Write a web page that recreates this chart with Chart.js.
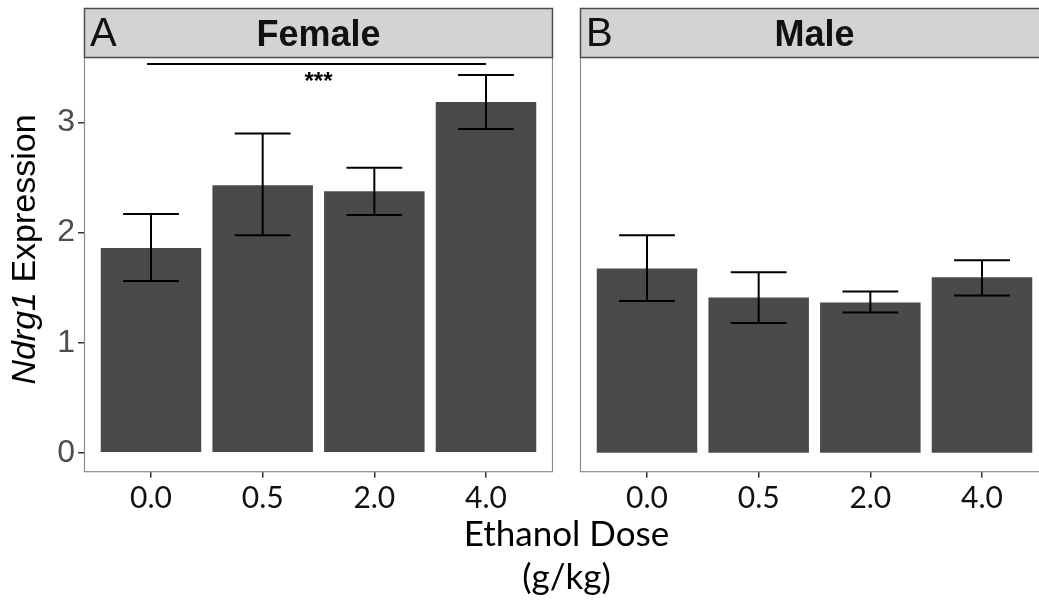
<!DOCTYPE html>
<html>
<head>
<meta charset="utf-8">
<script src="https://cdn.jsdelivr.net/npm/chart.js@4.4.1/dist/chart.umd.min.js"></script>
<style>
  html, body { margin: 0; padding: 0; background: #fff; overflow: hidden; }
  #wrap { position: relative; width: 1039px; height: 605px; overflow: hidden; }
  #femaleChart { position: absolute; left: 0; top: 0; }
  #maleChart { position: absolute; left: 500px; top: 0; }
</style>
</head>
<body>
<div id="wrap">
  <canvas id="femaleChart" width="1039" height="605"></canvas>
  <canvas id="maleChart" width="560" height="605"></canvas>
</div>
<script>
// dose groups and mean expression +/- error per sex
const doseLabels = ['0.0', '0.5', '2.0', '4.0'];
const yTicks = [0, 1, 2, 3];

const femaleMean = [1.86, 2.43, 2.375, 3.185];
const femaleLow  = [1.56, 1.975, 2.16, 2.94];
const femaleHigh = [2.17, 2.90, 2.59, 3.43];

const maleMean = [1.675, 1.41, 1.365, 1.595];
const maleLow  = [1.38, 1.18, 1.275, 1.43];
const maleHigh = [1.975, 1.64, 1.465, 1.75];

// significance bracket, 0.0 vs 4.0 in females
const sigPair = [0, 3];
const sigLineY = 3.53;
const sigTextY = 3.30;
const sigText = '***';

const yTitleParts = ['Ndrg1', ' Expression'];
const xTitleLines = ['Ethanol Dose', '(g/kg)'];

const BAR = '#4a4a4a';
const SANS = '"Liberation Sans", Arial, sans-serif';

function facetPlugin(mean, low, high, tag, title) {
  return {
    id: 'facet',
    afterDatasetsDraw(chart) {
      const c = chart.ctx, x = chart.scales.x, y = chart.scales.y;
      c.save();
      c.strokeStyle = '#000';
      c.lineWidth = 2;
      mean.forEach((m, i) => {
        const px = x.getPixelForValue(i);
        const l = x.getPixelForValue(i - 0.25), r = x.getPixelForValue(i + 0.25);
        const top = y.getPixelForValue(high[i]), bot = y.getPixelForValue(low[i]);
        c.beginPath();
        c.moveTo(px, top); c.lineTo(px, bot);
        c.moveTo(l, top); c.lineTo(r, top);
        c.moveTo(l, bot); c.lineTo(r, bot);
        c.stroke();
      });
      c.restore();
    },
    afterDraw(chart) {
      const c = chart.ctx, a = chart.chartArea;
      c.save();
      // panel outline
      c.strokeStyle = '#8c8c8c';
      c.lineWidth = 1.2;
      c.strokeRect(a.left + 0.5, a.top, a.width - 1, a.height);
      // strip header
      c.fillStyle = '#d3d3d3';
      c.fillRect(a.left, 8, a.width, a.top - 8);
      c.strokeStyle = '#4d4d4d';
      c.lineWidth = 1.5;
      c.strokeRect(a.left + 0.5, 8.5, a.width - 1, a.top - 8.5);
      c.fillStyle = '#111';
      c.textBaseline = 'alphabetic';
      c.textAlign = 'center';
      c.font = 'bold 36px ' + SANS;
      c.fillText(title, (a.left + a.right) / 2, 46);
      c.textAlign = 'left';
      c.font = '40px ' + SANS;
      c.fillText(tag, a.left + 6, 46);
      c.restore();
    }
  };
}

// extra drawing on the female panel: bracket, axis titles
const femaleExtras = {
  id: 'femaleExtras',
  afterDatasetsDraw(chart) {
    const c = chart.ctx, x = chart.scales.x, y = chart.scales.y;
    c.save();
    const ly = y.getPixelForValue(sigLineY);
    c.strokeStyle = '#000';
    c.lineWidth = 2;
    c.beginPath();
    c.moveTo(x.getPixelForValue(sigPair[0]) - 4, ly);
    c.lineTo(x.getPixelForValue(sigPair[1]), ly);
    c.stroke();
    c.fillStyle = '#000';
    c.font = 'bold 24px ' + SANS;
    c.textAlign = 'center';
    c.textBaseline = 'alphabetic';
    c.fillText(sigText, x.getPixelForValue((sigPair[0] + sigPair[1]) / 2), y.getPixelForValue(sigTextY));
    c.restore();
  },
  afterDraw(chart) {
    const c = chart.ctx;
    c.save();
    c.fillStyle = '#000';
    // y title, italic gene name
    c.translate(35, 249.5);
    c.rotate(-Math.PI / 2);
    c.textBaseline = 'alphabetic';
    c.textAlign = 'left';
    const it = 'italic 34px ' + SANS, rg = '34px ' + SANS;
    c.font = it;
    const w1 = c.measureText(yTitleParts[0]).width;
    c.font = rg;
    const w2 = c.measureText(yTitleParts[1]).width;
    const x0 = -(w1 + w2) / 2;
    c.font = it;
    c.fillText(yTitleParts[0], x0, 0);
    c.font = rg;
    c.fillText(yTitleParts[1], x0 + w1, 0);
    c.restore();

    // x title, centred under both panels
    c.save();
    c.fillStyle = '#000';
    c.font = '35px Lato, sans-serif';
    c.textAlign = 'center';
    c.textBaseline = 'alphabetic';
    c.fillText(xTitleLines[0], 566.5, 546);
    c.fillText(xTitleLines[1], 566.5, 589);
    c.restore();
  }
};

function panelChart(id, mean, low, high, opts) {
  return new Chart(document.getElementById(id), {
    type: 'bar',
    data: {
      datasets: [{
        data: mean.map((v, i) => ({ x: i, y: v })),
        backgroundColor: BAR,
        borderWidth: 0,
        barPercentage: 0.9,
        categoryPercentage: 1.0
      }]
    },
    options: {
      responsive: false,
      animation: false,
      layout: { padding: opts.padding },
      plugins: { legend: { display: false }, tooltip: { enabled: false } },
      scales: {
        x: {
          type: 'linear',
          min: -0.6,
          max: 3.6,
          offset: false,
          afterBuildTicks: s => { s.ticks = doseLabels.map((_, i) => ({ value: i })); },
          afterFit: s => { s.height = 605 - 471.7; },
          ticks: {
            callback: v => doseLabels[v],
            color: '#111',
            font: { family: 'Lato', size: 30 },
            padding: 3,
            maxRotation: 0,
            autoSkip: false
          },
          grid: { offset: false, drawOnChartArea: false, drawTicks: true, tickLength: 6, color: '#333', lineWidth: 1.5 },
          border: { display: false }
        },
        y: {
          min: -0.171,
          max: 3.59,
          afterBuildTicks: s => { s.ticks = yTicks.map(v => ({ value: v })); },
          afterFit: s => { s.width = opts.yWidth; },
          ticks: {
            display: opts.showY,
            color: '#4d4d4d',
            font: { family: 'Liberation Sans', size: 32 },
            padding: 3
          },
          grid: { display: opts.showY, drawOnChartArea: false, tickLength: 6, color: '#333', lineWidth: 1.5 },
          border: { display: false }
        }
      }
    },
    plugins: opts.plugins
  });
}

Promise.all([
  document.fonts.load('30px Lato'),
  document.fonts.load('32px "Liberation Sans"'),
  document.fonts.load('bold 36px "Liberation Sans"'),
  document.fonts.load('italic 34px "Liberation Sans"')
]).catch(() => {}).then(() => {
  panelChart('femaleChart', femaleMean, femaleLow, femaleHigh, {
    padding: { top: 57.5, right: 1039 - 553, left: 0, bottom: 0 },
    yWidth: 84,
    showY: true,
    plugins: [facetPlugin(femaleMean, femaleLow, femaleHigh, 'A', 'Female'), femaleExtras]
  });
  panelChart('maleChart', maleMean, maleLow, maleHigh, {
    padding: { top: 57.5, right: 560 - 549, left: 0, bottom: 0 },
    yWidth: 80,
    showY: false,
    plugins: [facetPlugin(maleMean, maleLow, maleHigh, 'B', 'Male')]
  });
});
</script>
</body>
</html>
